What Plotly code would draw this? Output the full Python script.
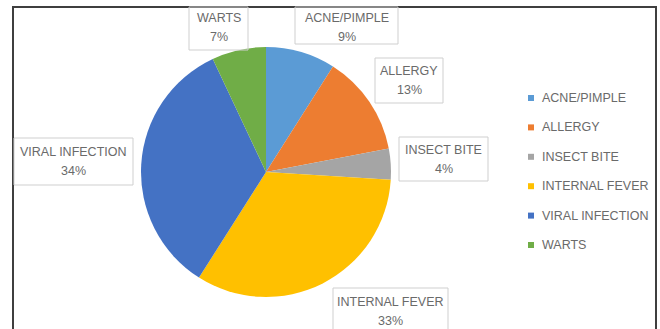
import plotly.graph_objects as go

# Share of skin / health complaints
categories = ["ACNE/PIMPLE", "ALLERGY", "INSECT BITE", "INTERNAL FEVER", "VIRAL INFECTION", "WARTS"]
values = [9, 13, 4, 33, 34, 7]
colors = ["#5B9BD5", "#ED7D31", "#A5A5A5", "#FFC000", "#4472C4", "#70AD47"]

W, H = 660, 329
TEXT = "#6a6a6a"
FONT = "Liberation Sans"


def px(x):
    return x / W


def py(y):
    return 1 - y / H


fig = go.Figure()

# pie: centre (266, 172), radius 125 px
cx, cy, r = 266, 172, 125
fig.add_trace(go.Pie(
    labels=categories,
    values=values,
    marker=dict(colors=colors, line=dict(width=0)),
    sort=False,
    direction="clockwise",
    rotation=0,
    textinfo="none",
    hoverinfo="label+percent",
    showlegend=False,
    domain=dict(x=[px(cx - r), px(cx + r)], y=[py(cy + r), py(cy - r)]),
))

shapes = []
annotations = []

# chart frame (top, left, right edges)
shapes.append(dict(
    type="path", xref="paper", yref="paper",
    path=f"M {px(13)} {py(335)} L {px(13)} {py(7)} L {px(656)} {py(7)} L {px(656)} {py(335)}",
    line=dict(color="#3f3f3f", width=2),
))

# data-label boxes: (x0, x1, y0, y1) in px for each category
boxes = {
    "ACNE/PIMPLE": (295, 398, 7, 44),
    "ALLERGY": (375, 443, 58, 103),
    "INSECT BITE": (399, 488, 137, 181),
    "INTERNAL FEVER": (333, 448, 288, 340),
    "VIRAL INFECTION": (14, 133, 138, 185),
    "WARTS": (189, 248, 7, 50),
}
# vertical centre of the two text lines in each box
text_mid = {
    "ACNE/PIMPLE": 27.5,
    "ALLERGY": 80.5,
    "INSECT BITE": 159,
    "INTERNAL FEVER": 311,
    "VIRAL INFECTION": 161.5,
    "WARTS": 27.5,
}
total = sum(values)
for name, v in zip(categories, values):
    x0, x1, y0, y1 = boxes[name]
    shapes.append(dict(
        type="rect", xref="paper", yref="paper",
        x0=px(x0), x1=px(x1), y0=py(y1), y1=py(y0),
        line=dict(color="#cfcfcf", width=1), fillcolor="rgba(255,255,255,0)",
    ))
    xm = (x0 + x1) / 2
    ym = text_mid[name]
    pct = round(v / total * 100)
    annotations.append(dict(
        xref="paper", yref="paper", x=px(xm), y=py(ym - 9.5),
        text=name, showarrow=False, xanchor="center", yanchor="middle",
        font=dict(family=FONT, size=12.5, color=TEXT),
    ))
    annotations.append(dict(
        xref="paper", yref="paper", x=px(xm), y=py(ym + 9.5),
        text=f"{pct}%", showarrow=False, xanchor="center", yanchor="middle",
        font=dict(family=FONT, size=12.5, color=TEXT),
    ))

# legend
leg_y0, leg_dy = 98, 29.4
for i, (name, col) in enumerate(zip(categories, colors)):
    y = leg_y0 + i * leg_dy
    shapes.append(dict(
        type="rect", xref="paper", yref="paper",
        x0=px(528), x1=px(534), y0=py(y + 3), y1=py(y - 3),
        line=dict(width=0), fillcolor=col,
    ))
    annotations.append(dict(
        xref="paper", yref="paper", x=px(540), y=py(y),
        text=name, showarrow=False, xanchor="left", yanchor="middle",
        font=dict(family=FONT, size=12.5, color=TEXT),
    ))

fig.update_layout(
    width=W, height=H,
    margin=dict(l=0, r=0, t=0, b=0),
    paper_bgcolor="white",
    plot_bgcolor="white",
    shapes=shapes,
    annotations=annotations,
)

fig.write_html("out.html")
